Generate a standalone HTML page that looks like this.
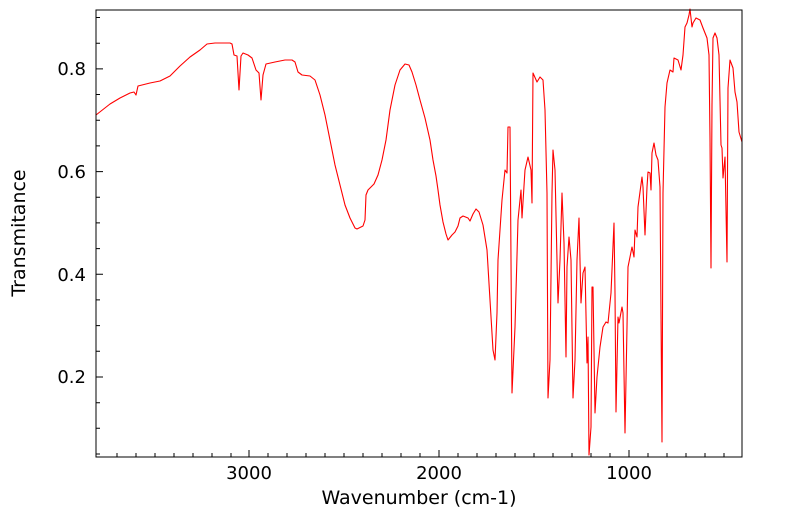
<!DOCTYPE html>
<html><head><meta charset="utf-8"><style>
html,body{margin:0;padding:0;background:#fff;}
svg{display:block;font-family:"DejaVu Sans","Liberation Sans",sans-serif;}
</style></head><body>
<svg width="799" height="516" viewBox="0 0 799 516" xmlns="http://www.w3.org/2000/svg">
<rect width="799" height="516" fill="#fff"/>
<g stroke="#000" stroke-width="1">
<path d="M96,454.0h4 M96,428.3h4 M96,402.7h4 M96,377h7 M96,351.3h4 M96,325.6h4 M96,299.9h4 M96,274.3h7 M96,248.6h4 M96,222.9h4 M96,197.2h4 M96,171.6h7 M96,145.9h4 M96,120.2h4 M96,94.5h4 M96,68.9h7 M96,43.2h4 M96,17.5h4"/>
<path d="M117,457v-4 M136,457v-4 M155,457v-4 M174,457v-4 M193,457v-4 M212,457v-4 M231,457v-4 M249,457v-7 M268,457v-4 M287,457v-4 M306,457v-4 M325,457v-4 M344,457v-4 M363,457v-4 M382,457v-4 M401,457v-4 M420,457v-4 M439,457v-7 M458,457v-4 M477,457v-4 M496,457v-4 M515,457v-4 M534,457v-4 M553,457v-4 M572,457v-4 M591,457v-4 M610,457v-4 M629,457v-7 M648,457v-4 M667,457v-4 M686,457v-4 M705,457v-4 M724,457v-4"/>
</g>
<polyline fill="none" stroke="#ff0000" stroke-width="1.1" stroke-linejoin="round" points="96,115 110,104 120,98 130,93 134,92 136,95 138,86 150,83 160,81 170,76 180,66 190,57 200,50 207,44 215,43 230,43 232,44 234,55 237,56 239,90 241,56 243,53 248,55 252,58 256,70 259,73 261,100 263,75 266,64 275,62 285,60 292,60 295,62 298,72 302,75 310,76 315,80 320,95 325,115 330,140 335,165 340,185 345,205 350,218 355,228 357,229 363,226 365,220 366,195 368,190 370,188 374,184 378,175 382,160 386,140 390,110 395,85 400,70 405,64 409,65 412,72 416,85 420,100 425,118 430,140 433,160 436,176 438,190 440,205 443,222 446,234 448,240 452,235 455,232 458,226 460,218 463,216 468,218 470,221 473,214 476,209 479,212 483,225 487,250 490,300 493,350 495,360 497,313 498,260 502,200 505,170 507,173 508,127 510,127 512,393 515,327 518,220 521,190 522,218 525,170 528,157 531,170 532,203 533,73 537,82 540,77 543,80 545,110 547,193 548,398 550,360 552,193 553,150 555,170 557,260 558,303 560,260 562,193 564,243 566,357 567,267 569,237 571,260 573,398 575,360 577,260 579,218 581,303 583,273 585,267 587,363 588,337 589,455 591,427 592,287 593,287 595,413 597,377 600,347 603,327 606,322 608,323 611,293 614,223 615,293 616,412 618,317 619,323 622,307 623,313 625,433 627,327 628,267 632,247 634,257 635,230 637,237 638,207 642,177 643,187 645,235 647,187 648,172 650,173 651,190 652,153 654,143 656,155 658,160 660,187 662,442 663,193 665,107 667,83 670,70 673,72 674,58 678,60 681,70 683,55 685,27 687,23 689,15 690,9 692,27 693,23 696,18 700,20 703,28 707,38 709,55 710,138 711,268 712,105 713,38 715,33 717,38 719,55 721,145 722,148 723,178 725,157 727,262 728,88 730,60 733,68 735,92 737,102 739,132 742,142"/>
<rect x="96" y="10" width="646" height="447" fill="none" stroke="#000" stroke-width="1"/>
<g font-size="18" fill="#000" text-anchor="end">
<text x="86" y="75">0.8</text>
<text x="86" y="178">0.6</text>
<text x="86" y="281">0.4</text>
<text x="86" y="383">0.2</text>
</g>
<g font-size="18" fill="#000" text-anchor="middle">
<text x="249" y="479">3000</text>
<text x="439" y="479">2000</text>
<text x="629" y="479">1000</text>
<text x="419" y="504" font-size="19">Wavenumber (cm-1)</text>
<text transform="translate(25,233) rotate(-90)" font-size="19">Transmitance</text>
</g>
</svg>
</body></html>
